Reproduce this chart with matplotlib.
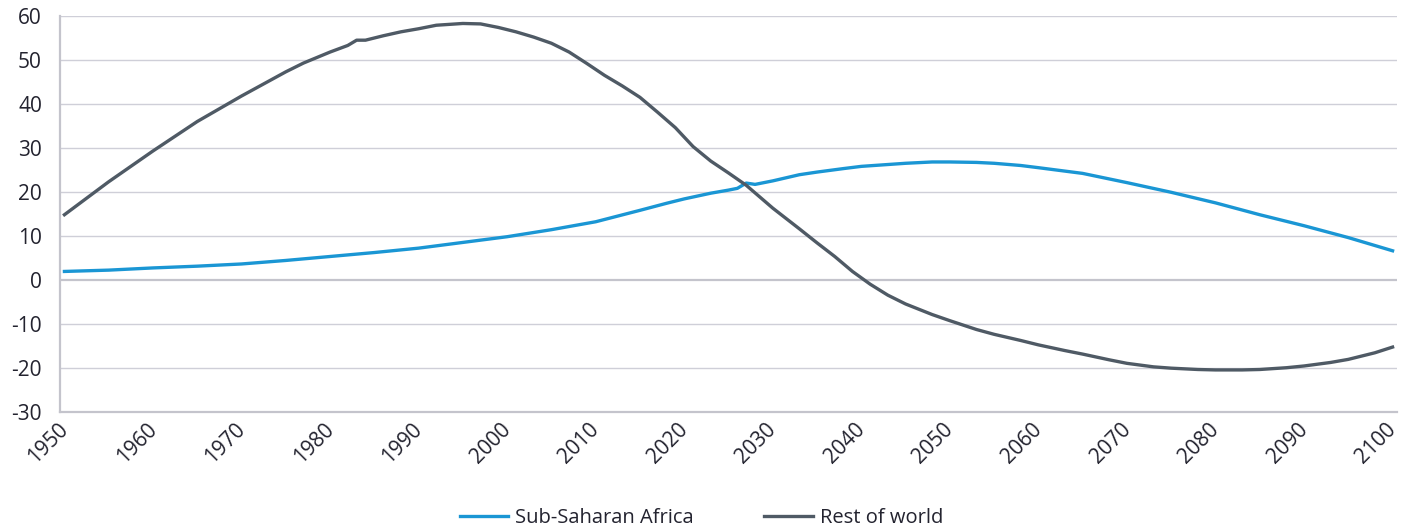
import matplotlib
matplotlib.use("Agg")
import matplotlib.pyplot as plt
from matplotlib.transforms import ScaledTranslation

# values (extra points where the lines bend or kink)
ROW_YEARS = [1950, 1955, 1960, 1965, 1970, 1975, 1977, 1980, 1982, 1983, 1984, 1986,
             1988, 1990, 1992, 1995, 1997, 1999, 2001, 2003, 2005, 2007, 2009, 2011,
             2013, 2015, 2017, 2019, 2021, 2023, 2025, 2027, 2030, 2033, 2035, 2037,
             2039, 2041, 2043, 2045, 2048, 2050, 2053, 2055, 2058, 2060, 2063, 2065,
             2068, 2070, 2073, 2075, 2078, 2080, 2083, 2085, 2088, 2090, 2093, 2095,
             2098, 2100]
ROW_VALUES = [14.8, 22.3, 29.3, 36.0, 41.8, 47.3, 49.3, 51.8, 53.3, 54.5, 54.5, 55.5,
              56.4, 57.1, 57.9, 58.3, 58.2, 57.4, 56.4, 55.2, 53.8, 51.8, 49.2, 46.5,
              44.1, 41.5, 38.1, 34.6, 30.3, 27.0, 24.3, 21.5, 16.3, 11.6, 8.4, 5.3,
              1.9, -1.0, -3.5, -5.5, -7.9, -9.3, -11.3, -12.4, -13.8, -14.8, -16.1, -16.9,
              -18.2, -19.0, -19.8, -20.1, -20.4, -20.5, -20.5, -20.4, -20.0, -19.6, -18.8, -18.1,
              -16.6, -15.3]

SSA_YEARS = [1950, 1955, 1960, 1965, 1970, 1975, 1980, 1985, 1990, 1995, 2000, 2005,
             2010, 2015, 2018, 2020, 2023, 2025, 2026, 2027, 2028, 2030, 2033, 2035,
             2038, 2040, 2045, 2048, 2050, 2053, 2055, 2058, 2060, 2065, 2070, 2075,
             2080, 2085, 2090, 2095, 2100]
SSA_VALUES = [1.9, 2.2, 2.7, 3.1, 3.6, 4.4, 5.3, 6.2, 7.2, 8.5, 9.8, 11.4,
              13.2, 15.8, 17.4, 18.4, 19.7, 20.4, 20.8, 22.0, 21.7, 22.5, 23.9, 24.5,
              25.3, 25.8, 26.5, 26.8, 26.8, 26.7, 26.5, 26.0, 25.5, 24.2, 22.1, 19.9,
              17.5, 14.8, 12.3, 9.6, 6.6]

X_TICKS = list(range(1950, 2101, 10))
Y_TICKS = list(range(-30, 61, 10))

BLUE = "#1a96d4"
GREY = "#4f5a65"
TEXT = "#23232f"
GRID = "#cfcfd8"

plt.rcParams["font.family"] = ["Open Sans", "DejaVu Sans"]
plt.rcParams["axes.unicode_minus"] = False

fig = plt.figure(figsize=(14.03, 5.29), dpi=100)
ax = fig.add_axes([60 / 1403, 1 - 411.7 / 529, 1337 / 1403, (411.7 - 16) / 529])

ax.plot(SSA_YEARS, SSA_VALUES, color=BLUE, lw=2.4, label="Sub-Saharan Africa",
        solid_joinstyle="round", zorder=3)
ax.plot(ROW_YEARS, ROW_VALUES, color=GREY, lw=2.4, label="Rest of world",
        solid_joinstyle="round", zorder=3)

ax.set_xlim(1949.5, 2100.5)
ax.set_ylim(-30, 60)
ax.set_xticks(X_TICKS)
ax.set_yticks(Y_TICKS)

for v in Y_TICKS:
    if v == -30:
        continue
    ax.axhline(v, color="#c4c4cc" if v == 0 else GRID,
               lw=1.6 if v == 0 else 1.0, zorder=1)

for side in ("top", "right"):
    ax.spines[side].set_visible(False)
for side in ("left", "bottom"):
    ax.spines[side].set_color("#c4c4cc")
    ax.spines[side].set_linewidth(1.6)

ax.tick_params(axis="y", length=0, pad=13, labelsize=15, labelcolor=TEXT)
ax.tick_params(axis="x", length=0, pad=5, labelsize=15, labelcolor=TEXT)
shift = ScaledTranslation(-7 / 100, 0, fig.dpi_scale_trans)
for lab in ax.get_xticklabels():
    lab.set_rotation(45)
    lab.set_ha("right")
    lab.set_va("top")
    lab.set_rotation_mode("anchor")
    lab.set_transform(lab.get_transform() + shift)

fig.legend(loc="center", bbox_to_anchor=(0.5, 1 - 518 / 529), ncol=2, frameon=False,
           fontsize=14.5, labelcolor=TEXT, handlelength=2.4, handletextpad=0.35,
           columnspacing=3.5)

fig.savefig("out.png", dpi=100)
